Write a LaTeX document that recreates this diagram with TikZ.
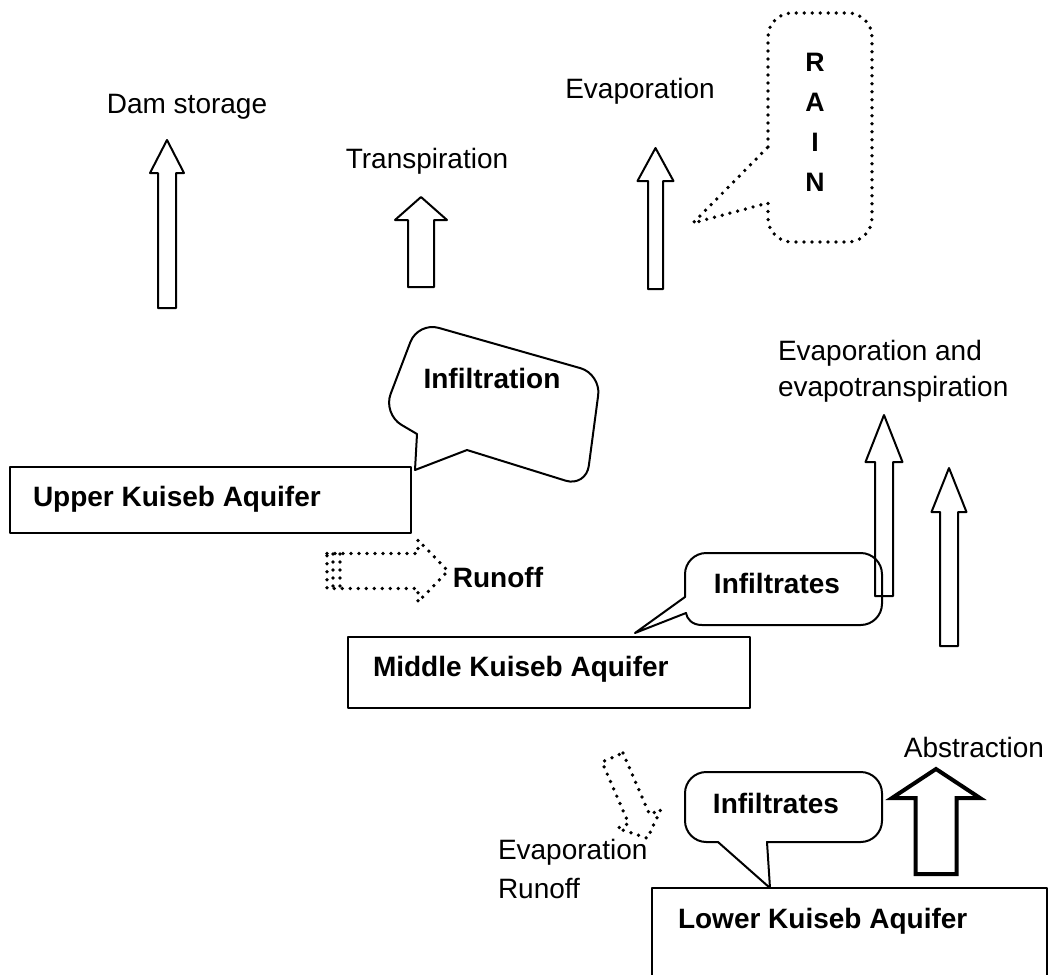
\documentclass[tikz,border=0pt]{standalone}
\usepackage{fontspec}
\setmainfont{Liberation Sans}
\usetikzlibrary{calc}

\tikzset{
  txt/.style={font=\fontsize{21}{27}\selectfont, inner sep=0pt},
  btxt/.style={font=\fontsize{21}{27}\selectfont\bfseries, inner sep=0pt},
  dotline/.style={line width=2.8pt, line cap=round, dash pattern=on 0pt off 6pt},
}
% block arrow: tail, angle, length, head length, shaft half width, head half width
\newcommand{\blkarrow}[7][]{%
  \begin{scope}[shift={#2}, rotate=#3]
    \draw[#1] (0,-#6) -- ({#4-#5},-#6) -- ({#4-#5},-#7) -- (#4,0)
      -- ({#4-#5},#7) -- ({#4-#5},#6) -- (0,#6) -- cycle;
  \end{scope}}

\begin{document}
\begin{tikzpicture}[x=0.75pt, y=-0.75pt, line width=1.5pt, line join=round]
\clip (0,0) rectangle (1051,975);

% labels above the arrows
\path (187,107) node[txt] (dam) {Dam storage};
\path (427,161) node[txt] (transp) {Transpiration};
\path (640,91) node[txt] (evap) {Evaporation};
\path (777,371) node[txt, anchor=west, align=left] (evapevt) {Evaporation and\\evapotranspiration};
\path (974,747) node[txt] (abstr) {Abstraction};

% upward arrows
\foreach \cx/\bot/\len/\hl/\sh/\hh in {167/308/168/33/9/17, 421/287/90/23/13/26,
    655.5/289/141/33/7.5/18, 884/596/181/47/9/18.5, 949/646/178/44/9/17.5}
  \blkarrow{(\cx,\bot)}{90}{\len}{\hl}{\sh}{\hh};
\blkarrow[line width=3pt, line join=miter]{(936,874)}{90}{105}{29}{20.5}{44}

% rain callout
\draw[dotline] (768,147) [rounded corners=18] -- (768,13) -- (872,13) -- (872,242)
  -- (768,242) [sharp corners] -- (768,203) -- (693,223) -- cycle;
\path (815,122) node[btxt, align=center, font=\fontsize{20}{30}\selectfont\bfseries] (rain) {R\\A\\I\\N};

% infiltration callout
\draw (467,450) [rounded corners=16] -- (586,487) -- (601,374) -- (418,322)
  -- (383,414) [sharp corners] -- (417,434) -- (415,470) -- cycle;
\path (492,378) node[btxt] (infil) {Infiltration};

% upper aquifer and runoff
\draw (10,467) rectangle (411,533);
\path (32,499) node[btxt, anchor=west] (upper) {Upper Kuiseb Aquifer};
\blkarrow[dotline]{(327,571)}{0}{121}{30}{17.5}{31}
\foreach \xx in {333,340}
  \draw[dotline] (\xx,554) -- (\xx,588);
\path (498,577) node[btxt] (runoff) {Runoff};

% middle aquifer
\draw (685,597) [rounded corners=16] -- (685,553) -- (882,553) -- (882,625)
  [sharp corners] -- (702,625) .. controls (692,625) and (687,619) .. (686,613) -- (635,633) -- cycle;
\path (777,583) node[btxt] (midinf) {Infiltrates};
\draw (348,637) rectangle (750,708);
\path (372,669) node[btxt, anchor=west] (middle) {Middle Kuiseb Aquifer};

% lower aquifer
\blkarrow[dotline]{(612.5,757.5)}{-66.6}{88}{21}{11.4}{23.5}
\path (497,852) node[txt, anchor=west] (evap2) {Evaporation};
\path (497,888) node[txt, anchor=west] (runoff2) {Runoff};
\draw (767,842) [rounded corners=16] -- (882,842) -- (882,772) -- (685,772)
  -- (685,842) [sharp corners] -- (718,842) -- (770,888) -- cycle;
\path (776,803) node[btxt] (lowinf) {Infiltrates};
\draw (652,888) rectangle (1047,1000);
\path (677,921) node[btxt, anchor=west] (lower) {Lower Kuiseb Aquifer};
\end{tikzpicture}
\end{document}
